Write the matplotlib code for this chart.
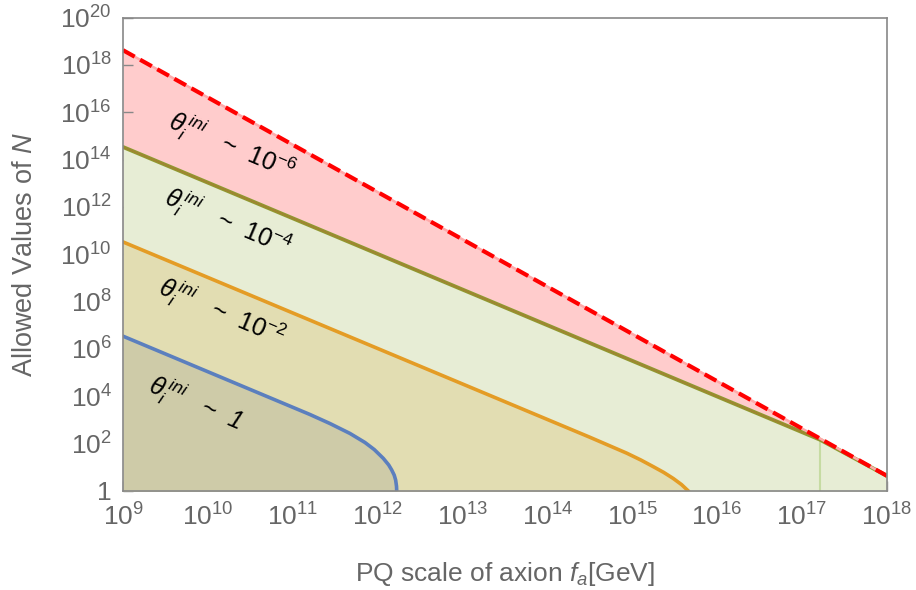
import numpy as np
import matplotlib
matplotlib.use("Agg")
import matplotlib.pyplot as plt
from matplotlib.ticker import FixedLocator, FuncFormatter, NullLocator

plt.rcParams['font.family'] = ['Liberation Sans', 'DejaVu Sans']
plt.rcParams['mathtext.fontset'] = 'custom'
plt.rcParams['mathtext.rm'] = 'Liberation Sans'
plt.rcParams['mathtext.it'] = 'Liberation Sans:italic'
plt.rcParams['mathtext.bf'] = 'Liberation Sans:bold'

# values (log10 of f_a and of N)
# upper bound (red dashed)
red_logfa = [9.0, 18.0]
red_logN = [18.62, 0.64]
# theta ~ 1e-4, runs into the red bound
olive_logfa = [9.0, 17.21, 18.0]
olive_logN = [14.53, 2.17, 0.64]
# theta ~ 1e-2
orange_logfa = [9.0, 13.70, 14.50, 14.933, 15.10, 15.246, 15.37, 15.482, 15.58, 15.66, 15.70]
orange_logN = [10.52, 3.47, 2.27, 1.60, 1.31, 1.03, 0.785, 0.53, 0.27, 0.0, -0.2]
# theta ~ 1
blue_logfa = [9.0, 11.20, 11.438, 11.674, 11.85, 11.96, 12.066, 12.13, 12.165, 12.195,
              12.212, 12.222, 12.228]
blue_logN = [6.54, 3.235, 2.85, 2.43, 2.05, 1.75, 1.38, 1.10, 0.89, 0.67,
             0.46, 0.20, -0.3]

label_texts = [r'$\theta_i^{\,ini}$   ~  $\mathit{10}^{\mathit{-6}}$',
               r'$\theta_i^{\,ini}$   ~  $\mathit{10}^{\mathit{-4}}$',
               r'$\theta_i^{\,ini}$   ~  $\mathit{10}^{\mathit{-2}}$',
               r'$\theta_i^{\,ini}$   ~  1']

y_ticks = list(range(0, 21, 2))
x_ticks = list(range(9, 19))

def pw(a):
    return 10.0 ** np.asarray(a)

fig = plt.figure(figsize=(9.16, 5.9), dpi=100)
ax = fig.add_axes([0.1343, 0.1678, 0.8340, 0.8025])
ax.set_xscale('log')
ax.set_yscale('log')

bottom = 1e-2
# filled regions, back to front
ax.fill_between(pw(red_logfa), bottom, pw(red_logN), color='#ffcccc', lw=0, zorder=1)
ax.fill_between(pw(olive_logfa), bottom, pw(olive_logN), color='#e7edd5', lw=0, zorder=2)
ax.fill_between(pw(orange_logfa), bottom, pw(orange_logN), color='#e2ddb2', lw=0, zorder=3)
ax.fill_between(pw(blue_logfa), bottom, pw(blue_logN), color='#cecba8', lw=0, zorder=4)

# thin green line where theta~1e-4 meets the bound
ax.plot([pw(olive_logfa[1])] * 2, [bottom, pw(olive_logN[1])], color='#c6dba2', lw=1.5, zorder=5)

# curves
ax.plot(pw(blue_logfa), pw(blue_logN), color='#5b7fbe', lw=2.6, zorder=6, solid_joinstyle='round')
ax.plot(pw(orange_logfa), pw(orange_logN), color='#e49c25', lw=2.6, zorder=6, solid_joinstyle='round')
ax.plot(pw(olive_logfa), pw(olive_logN), color='#8f9a30', lw=2.8, zorder=6)
ax.plot(pw(olive_logfa), pw(olive_logN), color='#a08530', lw=1.3, zorder=6)
ax.plot(pw(red_logfa), pw(red_logN), color='#ffaaaa', lw=1.8, zorder=7)
ax.plot(pw(red_logfa), pw(red_logN), color='#ff0000', lw=3.0, zorder=8,
        dashes=(3.2, 1.5), dash_capstyle='butt')

# labels inside the bands
label_pos = [(10.284, 14.56), (10.237, 11.35), (10.166, 7.55), (9.85, 3.67)]
for txt, (lx, ly) in zip(label_texts, label_pos):
    ax.text(10 ** lx, 10 ** ly, txt, fontsize=18, style='italic', color='black',
            rotation=-23, rotation_mode='anchor', ha='center', va='center', zorder=9)

ax.set_xlim(1e9, 1e18)
ax.set_ylim(1, 1e20)

ax.xaxis.set_major_locator(FixedLocator([10.0 ** k for k in x_ticks]))
ax.yaxis.set_major_locator(FixedLocator([10.0 ** k for k in y_ticks]))
ax.xaxis.set_minor_locator(NullLocator())
ax.yaxis.set_minor_locator(NullLocator())
ax.xaxis.set_major_formatter(FuncFormatter(lambda v, p: r'$10^{%d}$' % round(np.log10(v))))
ax.yaxis.set_major_formatter(FuncFormatter(
    lambda v, p: '1' if round(np.log10(v)) == 0 else r'$10^{%d}$' % round(np.log10(v))))

ax.tick_params(direction='in', length=7, width=1.0, color='#888888',
               labelcolor='#666666', labelsize=19)
ax.tick_params(axis='x', pad=9)
ax.tick_params(axis='y', pad=8)
for s in ax.spines.values():
    s.set_color('#888888')
    s.set_linewidth(1.2)
    s.set_zorder(10)

ax.set_xlabel(r'PQ scale of axion $f_a$[GeV]', fontsize=19, color='#666666')
ax.set_ylabel(r'Allowed Values of $N$', fontsize=19.5, color='#666666')
ax.xaxis.set_label_coords(0.5, -0.146)
ax.yaxis.set_label_coords(-0.111, 0.5)

fig.savefig('out.png', dpi=100)
